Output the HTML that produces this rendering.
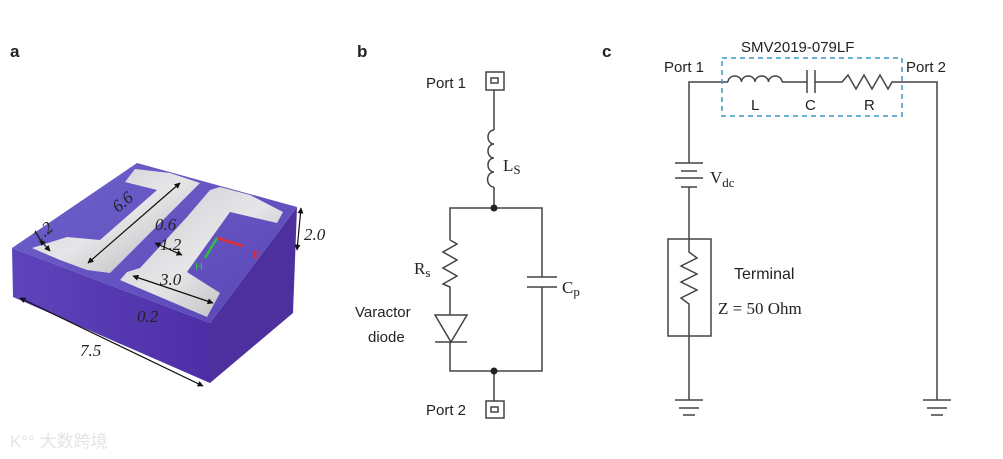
<!DOCTYPE html>
<html><head><meta charset="utf-8"><style>
html,body{margin:0;padding:0;background:#fff;}
svg{display:block;}
text{font-family:"Liberation Sans","DejaVu Sans",sans-serif;fill:#222;}
.s{font-family:"Liberation Serif","DejaVu Serif",serif;}
</style></head><body>
<svg width="1003" height="459" viewBox="0 0 1003 459" xmlns="http://www.w3.org/2000/svg">
<defs>
<linearGradient id="top" x1="0" y1="0" x2="1" y2="1"><stop offset="0" stop-color="#6e62cc"/><stop offset="1" stop-color="#5a46b6"/></linearGradient>
<linearGradient id="front" x1="0" y1="0" x2="1" y2="0"><stop offset="0" stop-color="#5e44bc"/><stop offset="1" stop-color="#4e2ea6"/></linearGradient>
<linearGradient id="metal" x1="0" y1="0" x2="1" y2="1"><stop offset="0" stop-color="#c8c8cc"/><stop offset="0.5" stop-color="#e6e6e8"/><stop offset="1" stop-color="#b0b0b4"/></linearGradient>
<marker id="ah" viewBox="0 0 10 10" refX="9" refY="5" markerWidth="5" markerHeight="5" orient="auto-start-reverse"><path d="M0,0 L10,5 L0,10 z" fill="#111"/></marker>
</defs>
<text x="10" y="57" font-size="17" font-weight="bold">a</text>
<text x="357" y="57" font-size="17" font-weight="bold">b</text>
<text x="602" y="57" font-size="17" font-weight="bold">c</text>

<polygon points="12,248 210,323 210,383 13,297" fill="url(#front)"/>
<polygon points="210,323 297,207 293,313 210,383" fill="#4d309e"/>
<polygon points="12,248 137,163 297,207 210,323" fill="url(#top)"/>
<polygon points="125,182 135,169 170,173 200,183 110,273 87,270 60,260 32,248 67,237 100,240 157,190" fill="url(#metal)"/>
<polygon points="210,190 220,187 250,195 283,212 277,223 230,212 187,272 220,293 207,317 120,280 127,272 140,268 187,217" fill="url(#metal)"/>
<g stroke="#111" stroke-width="1.2" fill="none" marker-start="url(#ah)" marker-end="url(#ah)">
<line x1="88" y1="263" x2="180" y2="183"/>
<line x1="40" y1="240" x2="50" y2="251"/>
<line x1="155" y1="243" x2="182" y2="255"/>
<line x1="133" y1="276" x2="213" y2="303"/>
<line x1="20" y1="298" x2="203" y2="386"/>
<line x1="301" y1="208" x2="297" y2="250"/>
</g>
<line x1="217" y1="238" x2="243" y2="246" stroke="#e03030" stroke-width="2.5"/>
<line x1="217" y1="238" x2="205" y2="258" stroke="#2fbf40" stroke-width="2.5"/>
<text x="253" y="258" font-size="11" style="fill:#e03030">E</text>
<text x="195" y="270" font-size="11" style="fill:#2fbf40">H</text>
<g font-size="17" font-style="italic">
<text x="118" y="213" transform="rotate(-40 118 213)" class="s">6.6</text>
<text x="38" y="243" transform="rotate(-40 38 243)" class="s">1.2</text>
<text x="155" y="230" class="s">0.6</text>
<text x="160" y="250" class="s">1.2</text>
<text x="160" y="285" class="s">3.0</text>
<text x="137" y="322" class="s">0.2</text>
<text x="80" y="356" class="s">7.5</text>
<text x="304" y="240" class="s">2.0</text>
</g>

<g stroke="#444" stroke-width="1.5" fill="none">
<rect x="486" y="72" width="18" height="18"/><rect x="491" y="78" width="7" height="5"/>
<rect x="486" y="401" width="18" height="17"/><rect x="491" y="407" width="7" height="5"/>
<line x1="494" y1="90" x2="494" y2="130"/>
<path d="M494,130 a6,7 0 1 0 0,14 a6,7 0 1 0 0,14 a6,7 0 1 0 0,14 a6,7 0 1 0 0,15"/>
<line x1="494" y1="187" x2="494" y2="208"/>
<polyline points="450,240 450,208 542,208 542,277"/>
<polyline points="450,240 457,244 443,252 457,260 443,268 457,276 443,284 450,287 450,315"/>
<line x1="527" y1="277" x2="557" y2="277"/><line x1="527" y1="287" x2="557" y2="287"/>
<polyline points="542,287 542,371 450,371 450,342"/>
<polygon points="435,315 467,315 451,342"/><line x1="435" y1="342" x2="467" y2="342"/>
<line x1="494" y1="371" x2="494" y2="401"/>
</g>
<circle cx="494" cy="208" r="3.5" fill="#222"/><circle cx="494" cy="371" r="3.5" fill="#222"/>
<text x="426" y="88" font-size="15">Port 1</text>
<text x="426" y="415" font-size="15">Port 2</text>
<text x="503" y="171" font-size="17" class="s">L<tspan font-size="13" dy="3">S</tspan></text>
<text x="414" y="274" font-size="17" class="s">R<tspan font-size="13" dy="3">s</tspan></text>
<text x="562" y="293" font-size="17" class="s">C<tspan font-size="13" dy="3">p</tspan></text>
<text x="355" y="317" font-size="15">Varactor</text>
<text x="368" y="342" font-size="15">diode</text>

<g stroke="#444" stroke-width="1.5" fill="none">
<polyline points="689,163 689,82 728,82"/>
<path d="M728,82 a6.75,6 0 0 1 13.5,0 a6.75,6 0 0 1 13.5,0 a6.75,6 0 0 1 13.5,0 a6.75,6 0 0 1 13.5,0"/>
<line x1="782" y1="82" x2="807" y2="82"/>
<line x1="807" y1="70" x2="807" y2="93"/><line x1="815" y1="70" x2="815" y2="93"/>
<polyline points="815,82 842,82 848,75 856,89 864,75 872,89 880,75 888,89 892,82 937,82 937,400"/>
<line x1="675" y1="163" x2="703" y2="163"/><line x1="681" y1="171" x2="697" y2="171"/>
<line x1="675" y1="178" x2="703" y2="178"/><line x1="681" y1="187" x2="697" y2="187"/>
<line x1="689" y1="187" x2="689" y2="240"/>
<rect x="668" y="239" width="43" height="97"/>
<polyline points="689,240 689,252 697,258 681,266 697,274 681,282 697,290 681,298 689,304 689,400"/>
<line x1="675" y1="400" x2="703" y2="400"/><line x1="679" y1="408" x2="699" y2="408"/><line x1="683" y1="415" x2="695" y2="415"/>
<line x1="923" y1="400" x2="951" y2="400"/><line x1="927" y1="408" x2="947" y2="408"/><line x1="931" y1="415" x2="943" y2="415"/>
</g>
<rect x="722" y="58" width="180" height="58" fill="none" stroke="#3a9ac0" stroke-width="1.5" stroke-dasharray="5,4"/>
<text x="741" y="52" font-size="15">SMV2019-079LF</text>
<text x="664" y="72" font-size="15">Port 1</text>
<text x="906" y="72" font-size="15">Port 2</text>
<text x="751" y="110" font-size="15">L</text>
<text x="805" y="110" font-size="15">C</text>
<text x="864" y="110" font-size="15">R</text>
<text x="710" y="183" font-size="17" class="s">V<tspan font-size="13" dy="4">dc</tspan></text>
<text x="734" y="279" font-size="16">Terminal</text>
<text x="718" y="314" font-size="17" class="s">Z = 50 Ohm</text>

<text x="10" y="447" font-size="17" style="fill:#e4e4e4">K°° 大数跨境</text>
</svg>
</body></html>
